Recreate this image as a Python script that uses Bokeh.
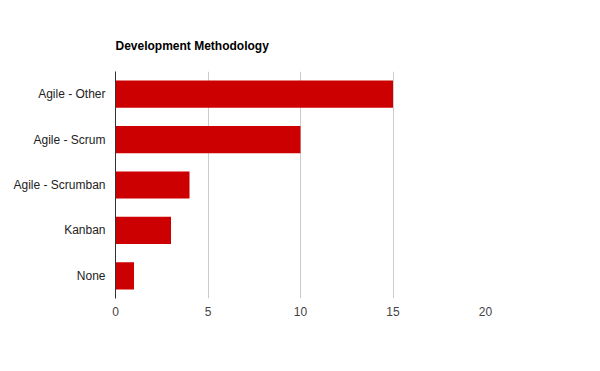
from bokeh.plotting import figure
from bokeh.models import FactorRange, Range1d, FixedTicker
from bokeh.embed import file_html
from bokeh.resources import INLINE

categories = ["Agile - Other", "Agile - Scrum", "Agile - Scrumban", "Kanban", "None"]
counts = [15, 10, 4, 3, 1]
x_ticks = [0, 5, 10, 15, 20]

FONT = "Liberation Sans"

p = figure(
    y_range=FactorRange(factors=list(reversed(categories))),
    x_range=Range1d(0, 20),
    frame_width=370, frame_height=227,
    min_border_left=115, min_border_right=99,
    min_border_top=71, min_border_bottom=57,
    output_backend="svg", toolbar_location=None,
    title="Development Methodology",
)
p.hbar(y=categories, right=counts, left=0, height=0.6, color="#cc0000", line_color=None)

p.title.text_font = FONT
p.title.text_font_size = "12px"
p.title.text_font_style = "bold"
p.title.text_color = "#000000"
p.title.align = "left"
p.title.standoff = 38

p.outline_line_color = None
p.background_fill_color = "white"
p.border_fill_color = "white"

p.xaxis.ticker = FixedTicker(ticks=x_ticks)
p.xaxis.axis_line_color = None
p.xaxis.major_tick_line_color = None
p.xaxis.minor_tick_line_color = None
p.xaxis.major_label_text_font = FONT
p.xaxis.major_label_text_font_size = "12px"
p.xaxis.major_label_text_color = "#444444"
p.xaxis.major_label_standoff = 2

p.yaxis.axis_line_color = "#333333"
p.yaxis.major_tick_line_color = None
p.yaxis.minor_tick_line_color = None
p.yaxis.major_label_text_font = FONT
p.yaxis.major_label_text_font_size = "12px"
p.yaxis.major_label_text_color = "#222222"
p.yaxis.major_label_standoff = 4

p.xgrid.grid_line_color = "#cccccc"
p.xgrid.ticker = FixedTicker(ticks=x_ticks[1:])
p.ygrid.grid_line_color = None

open("out.html", "w").write(file_html(p, INLINE))
